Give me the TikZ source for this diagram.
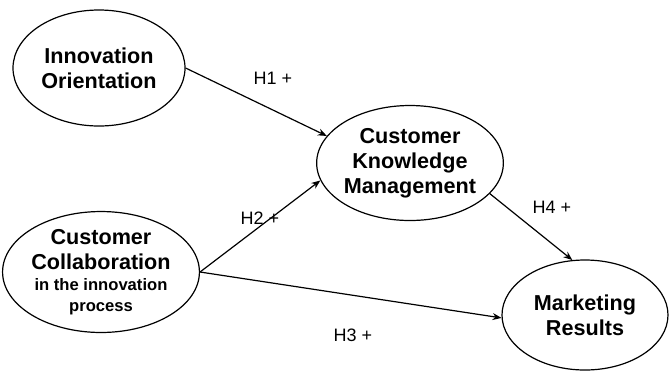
\documentclass[tikz,border=0pt]{standalone}
\usepackage{fontspec}
\setmainfont{Liberation Sans}
\usetikzlibrary{shapes.geometric,arrows.meta}

\begin{document}
\begin{tikzpicture}[x=0.5pt,y=-0.5pt,
    construct/.style={ellipse,draw=black,line width=0.6pt,inner sep=0pt,align=center,
        font=\fontsize{10.8}{12.5}\selectfont\bfseries},
    hypo/.style={font=\fontsize{9}{10}\selectfont},
    path/.style={draw=black,line width=0.6pt,-{Stealth[length=4.5pt,width=3.5pt]}}]
    \useasboundingbox (0,0) rectangle (669,371);

    \node[construct,minimum width=86pt,minimum height=58pt] (io) at (99,68) {Innovation\\Orientation};
    \node[construct,minimum width=86pt,minimum height=58.5pt] (cc) at (101,272)
        {Customer\\Collaboration\\[-2pt]{\fontsize{8.3}{10}\selectfont in the innovation}\\[-2pt]{\fontsize{8.3}{10}\selectfont process}};
    \node[construct,minimum width=85pt,minimum height=57.5pt] (ckm) at (410,163) {Customer\\Knowledge\\Management};
    \node[construct,minimum width=83pt,minimum height=55pt] (mr) at (585,315) {Marketing\\Results};

    \draw[path] (io.east) -- (ckm.162);
    \draw[path] (cc.east) -- (ckm.191);
    \draw[path] (cc.east) -- (mr.182);
    \draw[path] (ckm.339) -- (mr.103);

    \node[hypo] (h1) at (273,78) {H1 +};
    \node[hypo] (h2) at (260,218) {H2 +};
    \node[hypo] (h3) at (353,335) {H3 +};
    \node[hypo] (h4) at (552,207) {H4 +};
\end{tikzpicture}
\end{document}
